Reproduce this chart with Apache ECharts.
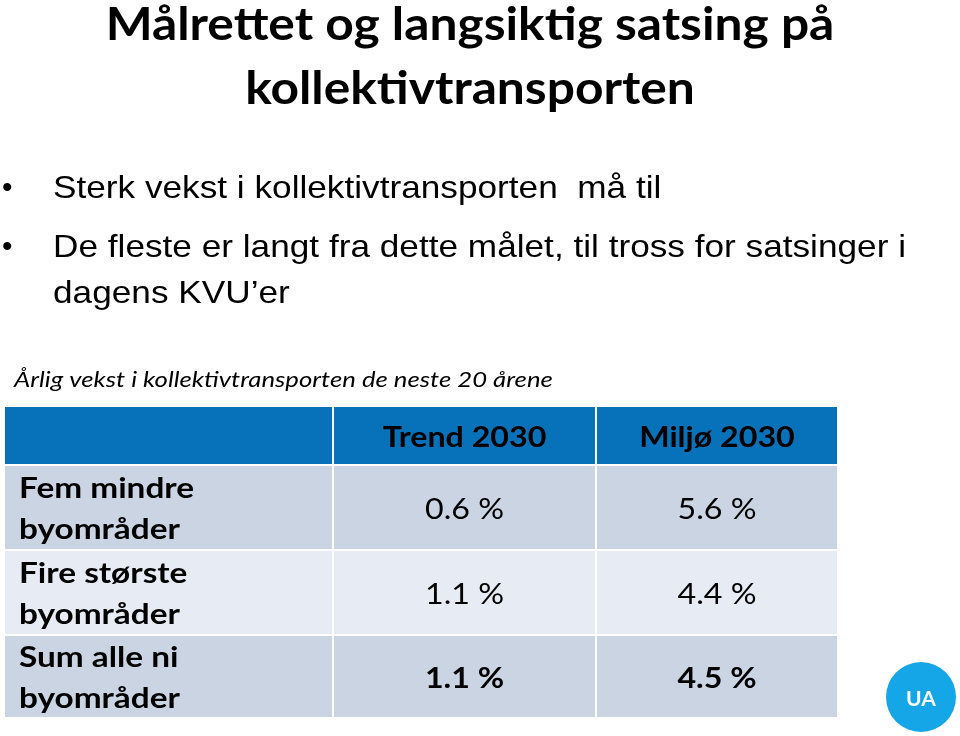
<!DOCTYPE html>
<html>
<head>
<meta charset="utf-8">
<script src="https://cdn.jsdelivr.net/npm/echarts@6/dist/echarts.min.js"></script>
<style>
html,body{margin:0;padding:0;background:#fff;}
#chart{width:960px;height:736px;}
</style>
</head>
<body>
<div id="chart"></div>
<script>
// ---- data ----
var titleLines = ['Målrettet og langsiktig satsing på', 'kollektivtransporten'];
var bullets = [
  ['Sterk vekst i kollektivtransporten  må til'],
  ['De fleste er langt fra dette målet, til tross for satsinger i', 'dagens KVU\u2019er']
];
var caption = 'Årlig vekst i kollektivtransporten de neste 20 årene';
var columns = ['', 'Trend 2030', 'Miljø 2030'];
var rowLabels = ['Fem mindre\nbyområder', 'Fire største\nbyområder', 'Sum alle ni\nbyområder'];
var trendValues = [0.6, 1.1, 1.1];
var miljoValues = [5.6, 4.4, 4.5];
var boldRows = [false, false, true];
var logoText = 'UA';

// ---- layout (not data) ----
var colEdges = [0, 0.3945, 0.7098, 1];
var rowEdges = [0, 0.189, 0.4615, 0.734, 1];
var headerColor = '#0772B9';
var oddColor = '#CAD4E3';
var evenColor = '#E7ECF4';
var calibri = 'Lato, "Open Sans", sans-serif';
var arial = '"Liberation Sans", Arial, sans-serif';

var cells = [];
for (var r = 0; r <= rowLabels.length; r++) {
  for (var c = 0; c < columns.length; c++) cells.push([c, r]);
}

function cellText(c, r) {
  if (r === 0) return columns[c];
  var i = r - 1;
  if (c === 0) return rowLabels[i];
  var v = c === 1 ? trendValues[i] : miljoValues[i];
  return v.toFixed(1) + ' %';
}

var chart = echarts.init(document.getElementById('chart'), null, {renderer: 'canvas'});

var graphics = [];
titleLines.forEach(function (t, i) {
  graphics.push({type: 'text', x: 470, y: 25 + i * 64, scaleX: 1.08, style: {
    text: t, fontFamily: calibri, fontWeight: 'bold', fontSize: 46, fill: '#000',
    textAlign: 'center', textVerticalAlign: 'middle', align: 'center', verticalAlign: 'middle'}});
});
var lineY = [189, 248, 294];
var li = 0;
bullets.forEach(function (b) {
  graphics.push({type: 'text', x: 2, y: lineY[li], style: {text: '\u2022', fontFamily: arial, fontSize: 30, fill: '#000',
    textAlign: 'left', textVerticalAlign: 'middle', align: 'left', verticalAlign: 'middle'}});
  b.forEach(function (t) {
    graphics.push({type: 'text', x: 53, y: lineY[li], scaleX: 1.1, style: {text: t, fontFamily: arial, fontSize: 32, fill: '#000',
      textAlign: 'left', textVerticalAlign: 'middle', align: 'left', verticalAlign: 'middle'}});
    li++;
  });
});
graphics.push({type: 'text', x: 14, y: 380, scaleX: 1.225, style: {text: caption, fontFamily: calibri, fontStyle: 'italic', fontSize: 21, fill: '#000',
  textAlign: 'left', textVerticalAlign: 'middle', align: 'left', verticalAlign: 'middle'}});
graphics.push({type: 'circle', shape: {cx: 921, cy: 697, r: 35}, style: {fill: '#14A6E6'}});
graphics.push({type: 'text', x: 921, y: 699, style: {text: logoText, fontFamily: calibri, fontWeight: 'bold', fontSize: 21, fill: '#fff',
  textAlign: 'center', textVerticalAlign: 'middle', align: 'center', verticalAlign: 'middle'}});

var option = {
  backgroundColor: '#fff',
  animation: false,
  grid: {left: 4, top: 406, width: 834, height: 312},
  xAxis: {type: 'value', min: 0, max: 1, show: false},
  yAxis: {type: 'value', min: 0, max: 1, inverse: true, show: false},
  graphic: graphics,
  series: [{
    type: 'custom',
    clip: false,
    data: cells,
    renderItem: function (params, api) {
      var c = api.value(0), r = api.value(1);
      var p0 = api.coord([colEdges[c], rowEdges[r]]);
      var p1 = api.coord([colEdges[c + 1], rowEdges[r + 1]]);
      var fill = r === 0 ? headerColor : (r % 2 === 1 ? oddColor : evenColor);
      var bold = r === 0 || c === 0 || boldRows[r - 1];
      var left = c === 0;
      var txt = cellText(c, r);
      return {
        type: 'group',
        children: [
          {type: 'rect', shape: {x: p0[0], y: p0[1], width: p1[0] - p0[0], height: p1[1] - p0[1]},
            style: {fill: fill, stroke: '#fff', lineWidth: 2}},
          {type: 'text', x: left ? p0[0] + 15 : (p0[0] + p1[0]) / 2, y: (p0[1] + p1[1]) / 2 + 2,
            scaleX: left ? 1.15 : 1.11,
            style: {text: txt, fontFamily: calibri, fontWeight: bold ? 'bold' : 'normal', fontSize: 29,
              lineHeight: 41, fill: '#000',
              textAlign: left ? 'left' : 'center', textVerticalAlign: 'middle',
              align: left ? 'left' : 'center', verticalAlign: 'middle'}}
        ]
      };
    }
  }]
};
chart.setOption(option);
</script>
</body>
</html>
